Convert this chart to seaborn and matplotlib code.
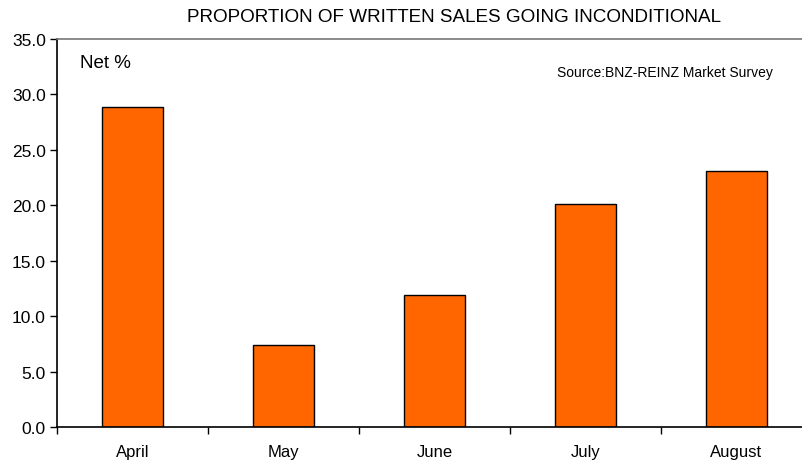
import matplotlib
matplotlib.use("Agg")
import matplotlib.pyplot as plt
from matplotlib.ticker import FixedLocator
import seaborn as sns
import pandas as pd

months = ["April", "May", "June", "July", "August"]
values = [28.9, 7.4, 11.9, 20.1, 23.1]
yticks = [0, 5, 10, 15, 20, 25, 30, 35]

sns.set_theme(style="white")
plt.rcParams["font.family"] = ["Liberation Sans", "DejaVu Sans"]

W, H = 802, 464
fig = plt.figure(figsize=(W / 100, H / 100), dpi=100)
x0, x1, ytop, ybot = 57, 802, 40, 428.3
ax = fig.add_axes([x0 / W, (H - ybot) / H, (x1 - x0) / W, (ybot - ytop) / H])

df = pd.DataFrame({"month": months, "value": values})
sns.barplot(data=df, x="month", y="value", color="#FF6600", saturation=1,
            edgecolor="black", linewidth=1.0, width=0.4, ax=ax)

cat_w = 151.0
ax.set_xlim(-0.5, -0.5 + (x1 - x0) / cat_w)
ax.set_ylim(0, 35)
ax.set_yticks(yticks)
ax.set_yticklabels([f"{v:.1f}" for v in yticks], fontsize=12.5, color="black")
ax.tick_params(axis="y", which="major", direction="out", length=5, width=1,
               color="black", pad=3, left=True)
ax.set_xticks(range(len(months)))
ax.set_xticklabels(months, fontsize=12, color="black")
ax.tick_params(axis="x", which="major", length=0, pad=12)
ax.xaxis.set_minor_locator(FixedLocator([i - 0.5 for i in range(len(months) + 1)]))
ax.tick_params(axis="x", which="minor", direction="out", length=5, width=1,
               color="black", bottom=True)
ax.set_xlabel("")
ax.set_ylabel("")

for s in ["left", "bottom"]:
    ax.spines[s].set_color("black")
    ax.spines[s].set_linewidth(1.2)
ax.spines["top"].set_color("#777777")
ax.spines["top"].set_linewidth(1.2)
ax.spines["right"].set_visible(False)

fig.text(454 / W, 1 - 17 / H, "PROPORTION OF WRITTEN SALES GOING INCONDITIONAL",
         ha="center", va="center", fontsize=13.6, color="black")
fig.text(80 / W, 1 - 64 / H, "Net %", ha="left", va="center", fontsize=13.5, color="black")
fig.text(557 / W, 1 - 73 / H, "Source:BNZ-REINZ Market Survey", ha="left", va="center",
         fontsize=10, color="black")

fig.savefig("out.png", dpi=100, facecolor="white")
